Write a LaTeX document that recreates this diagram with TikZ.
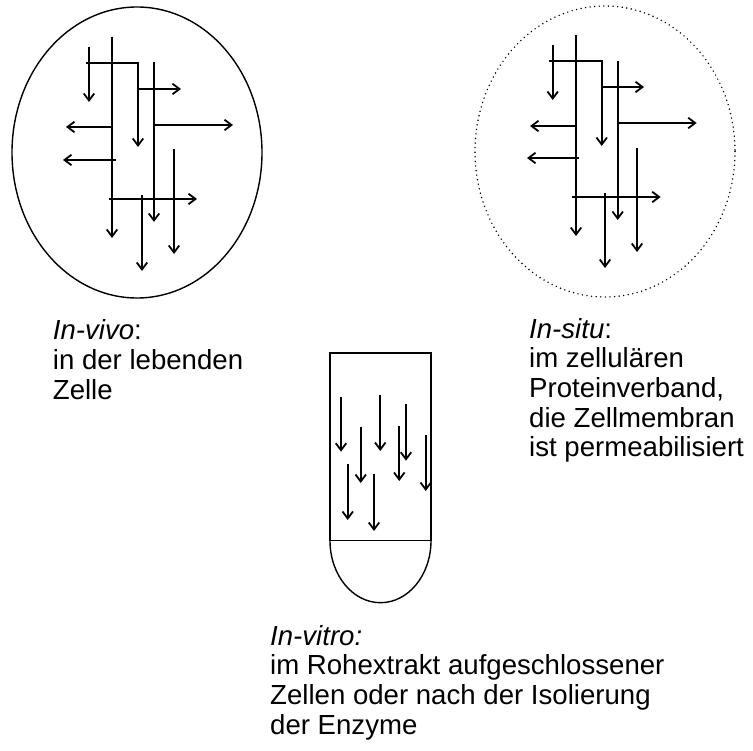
\documentclass[tikz,border=0pt]{standalone}
\usepackage{fontspec}
\setmainfont{Liberation Sans}
\usetikzlibrary{arrows.meta}
\tikzset{
  arr/.style={-{Straight Barb[length=7pt,width=10.5pt,line width=1.8pt]}, line width=1.7pt},
  outline/.style={line width=1.4pt},
  dotline/.style={line width=1.6pt, line cap=round, dash pattern=on 0pt off 4.6pt},
  label/.style={anchor=base west, align=left, inner sep=0pt, font=\fontsize{27.6}{29.7}\selectfont}
}
\begin{document}
\begin{tikzpicture}[x=1pt,y=-1pt]
\useasboundingbox (0,0) rectangle (753,751);
% in vivo cell
\draw[outline] (137,152.5) ellipse [x radius=125, y radius=145.5];
\draw[arr] (89,47) -- (89,102);
\draw[arr] (112,37) -- (112,238);
\draw[arr] (86,63) -- (138,63) -- (138,147);
\draw[arr] (138,89) -- (181,89);
\draw[arr] (154,62) -- (154,222);
\draw[arr] (154,125) -- (233,125);
\draw[arr] (112,127) -- (66,127);
\draw[arr] (116,160) -- (63,160);
\draw[arr] (109,199) -- (197,199);
\draw[arr] (142,195) -- (142,271);
\draw[arr] (174,149) -- (174,254);
% in situ cell
\draw[dotline] (605,151.5) ellipse [x radius=130, y radius=145.5];
\draw[arr] (552.7,45) -- (552.7,100);
\draw[arr] (576,35) -- (576,236);
\draw[arr] (549,61) -- (601.7,61) -- (601.7,146);
\draw[arr] (601.7,87) -- (644,87);
\draw[arr] (617.7,61) -- (617.7,220);
\draw[arr] (617.7,123) -- (696.7,123);
\draw[arr] (576,126) -- (530,126);
\draw[arr] (579,158) -- (527,158);
\draw[arr] (572,197) -- (660.7,197);
\draw[arr] (605,193) -- (605,268);
\draw[arr] (637,148) -- (637,252);
% in vitro tube
\draw[outline] (330,540.7) -- (330,353) -- (431,353) -- (431,540.7);
\draw[line width=1pt] (330,540.7) -- (431,540.7);
\draw[outline] (431,540.7) arc[start angle=0, end angle=180, x radius=50.5, y radius=62];
\draw[arr] (341,396.7) -- (341,451.7);
\draw[arr] (380.3,395) -- (380.3,451);
\draw[arr] (406,404) -- (406,460.7);
\draw[arr] (360.7,427) -- (360.7,483);
\draw[arr] (399.3,425.7) -- (399.3,481);
\draw[arr] (425.7,435) -- (425.7,491);
\draw[arr] (347.7,464) -- (347.7,520);
\draw[arr] (374,474) -- (374,531);
% labels (base anchor = baseline of the last line)
\node[label] (vivo) at (52.7,399.4) {\textit{In-vivo}:\\in der lebenden\\Zelle};
\node[label] (situ) at (529,456.8) {\textit{In-situ}:\\im zellulären\\Proteinverband,\\die Zellmembran\\ist permeabilisiert};
\node[label] (vitro) at (270,734.1) {\textit{In-vitro:}\\im Rohextrakt aufgeschlossener\\Zellen oder nach der Isolierung\\der Enzyme};
\end{tikzpicture}
\end{document}
